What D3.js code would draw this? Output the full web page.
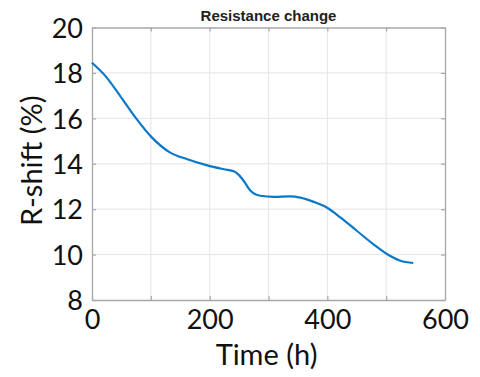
<!DOCTYPE html>
<html>
<head>
<meta charset="utf-8">
<script src="https://cdn.jsdelivr.net/npm/d3@7"></script>
<style>
  html, body { margin: 0; padding: 0; background: #fff; }
  svg { display: block; }
</style>
</head>
<body>
<svg id="chart" width="480" height="377"></svg>
<script>
// Resistance shift over time
const timeHours = [0, 23, 48, 74, 102, 133, 162, 196, 224, 242, 249, 258, 269, 286, 309, 337, 354, 377, 399, 422, 450, 478, 504, 524, 546];
const rShift    = [18.45, 17.86, 16.98, 16.03, 15.15, 14.49, 14.2, 13.93, 13.76, 13.66, 13.52, 13.24, 12.82, 12.59, 12.54, 12.56, 12.51, 12.32, 12.07, 11.64, 11.05, 10.46, 9.98, 9.73, 9.63];

const xTicks = [0, 100, 200, 300, 400, 500, 600];
const xTickLabels = ["0", "200", "400", "600"];
const yTicks = [8, 10, 12, 14, 16, 18, 20];
const yTickLabels = ["8", "10", "12", "14", "16", "18", "20"];

const titleText = "Resistance change";
const xTitle = "Time (h)";
const yTitle = "R-shift (%)";

const svg = d3.select("#chart");
const plotLeft = 92, plotRight = 445, plotTop = 27.5, plotBottom = 300;

const x = d3.scaleLinear().domain([0, 600]).range([plotLeft, plotRight]);
const y = d3.scaleLinear().domain([8, 20]).range([plotBottom, plotTop]);

const gridColor = "#e4e4e4";
const boxColor = "#a8a8a8";
const tickFont = "Lato, 'Open Sans', sans-serif";

// grid
const grid = svg.append("g");
grid.selectAll("line.gx").data(xTicks.slice(1, -1)).join("line")
  .attr("x1", d => x(d)).attr("x2", d => x(d))
  .attr("y1", plotTop).attr("y2", plotBottom)
  .attr("stroke", gridColor).attr("stroke-width", 1);
grid.selectAll("line.gy").data(yTicks.slice(1, -1)).join("line")
  .attr("x1", plotLeft).attr("x2", plotRight)
  .attr("y1", d => y(d)).attr("y2", d => y(d))
  .attr("stroke", gridColor).attr("stroke-width", 1);

// axes with inward ticks on all four sides
const labelX = d => xTickLabels.includes(String(d)) ? String(d) : "";
const axB = svg.append("g").attr("transform", `translate(0,${plotBottom})`)
  .call(d3.axisBottom(x).tickValues(xTicks).tickSizeInner(-4).tickSizeOuter(0).tickPadding(10).tickFormat(labelX));
const axT = svg.append("g").attr("transform", `translate(0,${plotTop})`)
  .call(d3.axisTop(x).tickValues(xTicks).tickSizeInner(-4).tickSizeOuter(0).tickFormat(""));
const axL = svg.append("g").attr("transform", `translate(${plotLeft},0)`)
  .call(d3.axisLeft(y).tickValues(yTicks).tickSizeInner(-4).tickSizeOuter(0).tickPadding(9)
    .tickFormat((d, i) => yTickLabels[i]));
const axR = svg.append("g").attr("transform", `translate(${plotRight},0)`)
  .call(d3.axisRight(y).tickValues(yTicks).tickSizeInner(-4).tickSizeOuter(0).tickFormat(""));

[axB, axT, axL, axR].forEach(g => {
  g.select(".domain").attr("stroke", boxColor).attr("stroke-width", 1.3);
  g.selectAll(".tick line").attr("stroke", boxColor).attr("stroke-width", 1.2);
  g.selectAll(".tick text").attr("fill", "#111")
    .style("font-family", tickFont).style("font-size", "27px");
});
axB.selectAll(".tick text").attr("dy", "0.71em");
axL.selectAll(".tick text").attr("dy", "0.36em");

// data line
const line = d3.line()
  .x((d, i) => x(timeHours[i]))
  .y(d => y(d))
  .curve(d3.curveMonotoneX);
svg.append("path")
  .datum(rShift)
  .attr("d", line)
  .attr("fill", "none")
  .attr("stroke", "#0a78c8")
  .attr("stroke-width", 2.2)
  .attr("stroke-linejoin", "round");

// title and axis titles
svg.append("text")
  .attr("x", (plotLeft + plotRight) / 2).attr("y", 21)
  .attr("text-anchor", "middle")
  .style("font-family", "'Liberation Sans', Arial, sans-serif")
  .style("font-weight", "bold").style("font-size", "15px")
  .attr("fill", "#222")
  .text(titleText);

svg.append("text")
  .attr("x", (plotLeft + plotRight) / 2 - 2).attr("y", 365)
  .attr("text-anchor", "middle")
  .style("font-family", tickFont).style("font-size", "29px")
  .attr("fill", "#111")
  .text(xTitle);

svg.append("text")
  .attr("transform", `translate(42,${(plotTop + plotBottom) / 2 - 3}) rotate(-90)`)
  .attr("text-anchor", "middle")
  .style("font-family", tickFont).style("font-size", "29px")
  .attr("fill", "#111")
  .text(yTitle);
</script>
</body>
</html>
